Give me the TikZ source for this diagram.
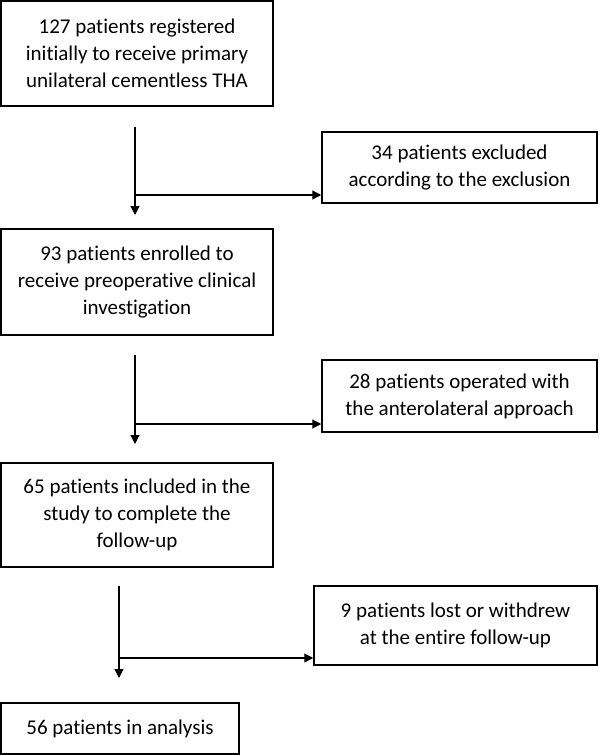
\documentclass[tikz,border=0pt]{standalone}
\usepackage{fontspec}
\setmainfont{Carlito}[Ligatures={NoCommon}]
\usepackage{tikz}
\usetikzlibrary{shapes,arrows,positioning,calc,arrows.meta}

\begin{document}
\begin{tikzpicture}[x=1pt, y=-1pt,
        box/.style={draw, line width=1.5pt, rectangle, align=center, inner sep=0pt, font=\fontsize{21}{27}\selectfont},
        arrow/.style={-{Triangle[length=9pt,width=9pt]}, line width=1.2pt}
    ]
        \useasboundingbox (0,0) rectangle (598,755);

        % Main column
        \node (reg) [box, minimum width=272pt, minimum height=105pt] at (137, 53.5) {127 patients registered\\initially to receive primary\\unilateral cementless THA};
        \node (enr) [box, minimum width=272pt, minimum height=106pt] at (137, 282) {93 patients enrolled to\\receive preoperative clinical\\investigation};
        \node (incl) [box, minimum width=272pt, minimum height=104pt] at (137, 515) {65 patients included in the\\study to complete the\\follow-up};
        \node (anal) [box, minimum width=238pt, minimum height=51pt] at (120, 728.5) {56 patients in analysis};

        % Exclusions
        \node (excl) [box, minimum width=275pt, minimum height=71pt] at (459.5, 167.5) {34 patients excluded\\according to the exclusion};
        \node (ante) [box, minimum width=275pt, minimum height=72pt] at (459.5, 396) {28 patients operated with\\the anterolateral approach};
        \node (lost) [box, minimum width=283pt, minimum height=79pt] at (455.5, 625.5) {9 patients lost or withdrew\\at the entire follow-up};

        % Step 1
        \coordinate (s1) at (135, 127);
        \coordinate (e1) at (135, 215);
        \coordinate (b1) at (135, 195);
        \draw [arrow] (s1) -- (e1);
        \draw [arrow] (b1) -- (excl.west |- b1);

        % Step 2
        \coordinate (s2) at (135, 355);
        \coordinate (e2) at (135, 444);
        \coordinate (b2) at (135, 424);
        \draw [arrow] (s2) -- (e2);
        \draw [arrow] (b2) -- (ante.west |- b2);

        % Step 3
        \coordinate (s3) at (119, 586);
        \coordinate (e3) at (119, 678);
        \coordinate (b3) at (119, 658);
        \draw [arrow] (s3) -- (e3);
        \draw [arrow] (b3) -- (lost.west |- b3);
    \end{tikzpicture}
\end{document}
